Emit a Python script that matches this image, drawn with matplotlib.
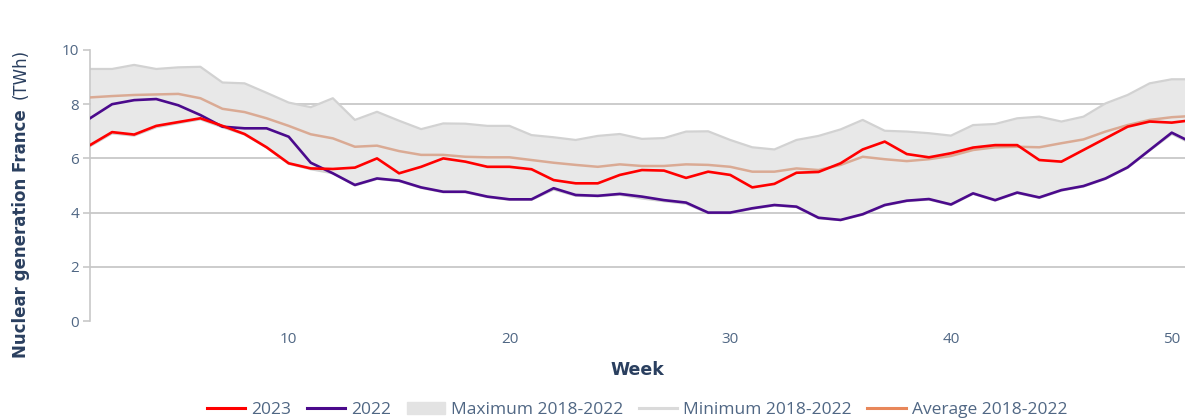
import numpy as np
import matplotlib
matplotlib.use("Agg")
import matplotlib.pyplot as plt
from matplotlib.lines import Line2D
from matplotlib.patches import Patch

plt.rcParams['font.family'] = ['Open Sans', 'DejaVu Sans']

weeks = list(range(1, 52))

gen_2023 = [6.49, 6.97, 6.88, 7.2, 7.34, 7.48, 7.2, 6.9, 6.41, 5.82,
            5.63, 5.61, 5.66, 6.0, 5.45, 5.69, 6.0, 5.88, 5.69, 5.69,
            5.6, 5.2, 5.08, 5.08, 5.39, 5.57, 5.55, 5.28, 5.51, 5.39,
            4.93, 5.06, 5.47, 5.5, 5.82, 6.33, 6.62, 6.16, 6.04, 6.19,
            6.4, 6.49, 6.49, 5.94, 5.88, 6.31, 6.74, 7.17, 7.36, 7.32, 7.42]

gen_2022 = [7.48, 8.0, 8.15, 8.19, 7.96, 7.6, 7.17, 7.11, 7.11, 6.8,
            5.84, 5.45, 5.02, 5.26, 5.18, 4.93, 4.77, 4.77, 4.59, 4.49,
            4.49, 4.9, 4.65, 4.62, 4.69, 4.59, 4.46, 4.37, 4.0, 4.0,
            4.16, 4.28, 4.22, 3.81, 3.73, 3.94, 4.28, 4.44, 4.5, 4.3,
            4.71, 4.46, 4.74, 4.56, 4.83, 4.98, 5.26, 5.67, 6.31, 6.95, 6.55]

max_1822 = [9.3, 9.3, 9.45, 9.3, 9.36, 9.38, 8.8, 8.77, 8.42, 8.06,
            7.89, 8.22, 7.42, 7.72, 7.39, 7.08, 7.29, 7.28, 7.2, 7.2,
            6.86, 6.78, 6.68, 6.83, 6.9, 6.72, 6.75, 6.99, 7.0, 6.68,
            6.41, 6.33, 6.68, 6.83, 7.07, 7.42, 7.02, 6.99, 6.93, 6.84,
            7.23, 7.27, 7.48, 7.54, 7.36, 7.54, 8.03, 8.34, 8.77, 8.92, 8.92]

min_1822 = [6.45, 6.92, 6.84, 7.15, 7.3, 7.44, 7.15, 6.88, 6.4, 5.8,
            5.6, 5.45, 5.0, 5.24, 5.16, 4.91, 4.75, 4.75, 4.57, 4.47,
            4.47, 4.85, 4.62, 4.6, 4.66, 4.52, 4.42, 4.33, 3.98, 3.98,
            4.14, 4.26, 4.2, 3.79, 3.72, 3.92, 4.26, 4.42, 4.48, 4.28,
            4.69, 4.44, 4.72, 4.54, 4.81, 4.96, 5.24, 5.65, 6.29, 6.9, 6.5]

avg_1822 = [8.25, 8.3, 8.34, 8.36, 8.38, 8.22, 7.83, 7.71, 7.48, 7.2,
            6.89, 6.74, 6.43, 6.47, 6.27, 6.13, 6.13, 6.06, 6.04, 6.04,
            5.94, 5.84, 5.76, 5.69, 5.78, 5.72, 5.72, 5.78, 5.76, 5.69,
            5.51, 5.51, 5.63, 5.57, 5.76, 6.06, 5.97, 5.9, 5.97, 6.09,
            6.31, 6.41, 6.43, 6.41, 6.56, 6.7, 6.99, 7.23, 7.42, 7.52, 7.57]

W, H = 1185, 419
fig = plt.figure(figsize=(W / 100, H / 100), dpi=100)
ax = fig.add_axes([90 / W, 1 - 321 / H, 1 - 90 / W, 271 / H])

band_col = '#e8e8e8'
edge_col = '#d2d2d2'
avg_col = '#e8875a'
navy = '#2a3f5f'

ax.fill_between(weeks, min_1822, max_1822, color=band_col, lw=0, zorder=1)
ax.plot(weeks, max_1822, color=edge_col, lw=1.6, zorder=2)
ax.plot(weeks, min_1822, color=edge_col, lw=1.6, zorder=2)
ax.plot(weeks, avg_1822, color='#d9a48b', alpha=0.9, lw=1.8, zorder=3)
ax.plot(weeks, gen_2022, color='#4b0a8c', lw=1.9, zorder=4)
ax.plot(weeks, gen_2023, color='#ff0000', lw=1.9, zorder=5)

ax.set_xlim(1, 50.6)
ax.set_ylim(0, 10)
ax.set_yticks([0, 2, 4, 6, 8, 10])
ax.set_xticks([10, 20, 30, 40, 50])
for y in [2, 4, 6, 8]:
    ax.axhline(y, color='#cccccc', lw=1.4, zorder=0)

for s in ['top', 'right', 'bottom']:
    ax.spines[s].set_visible(False)
ax.spines['left'].set_color('#c8c8c8')
ax.spines['left'].set_linewidth(1.2)
ax.tick_params(axis='y', colors='#c8c8c8', labelcolor='#506784', labelsize=11,
               length=5, width=1.2, pad=3)
ax.tick_params(axis='x', labelcolor='#506784', labelsize=11, length=0, pad=8)

ax.set_xlabel('Week', fontsize=12.5, fontweight='bold', color=navy, labelpad=10,
              family='DejaVu Sans')

ylab = fig.text(21 / W, 1 - 358 / H, 'Nuclear generation France', rotation=90,
                ha='center', va='bottom', fontsize=12, fontweight='bold', color=navy,
                family='DejaVu Sans')
fig.canvas.draw()
bb = ylab.get_window_extent()
top_px = bb.y1 / fig.dpi / (H / 100)
fig.text(21 / W, top_px + 10 / H, '(TWh)', rotation=90,
         ha='center', va='bottom', fontsize=12, color=navy, family='DejaVu Sans')

handles = [
    Line2D([], [], color='#ff0000', lw=2.2),
    Line2D([], [], color='#4b0a8c', lw=2.2),
    Patch(facecolor='#e3e3e3', edgecolor='#e3e3e3'),
    Line2D([], [], color='#dadada', lw=2.2),
    Line2D([], [], color=avg_col, lw=2.2),
]
labels = ['2023', '2022', 'Maximum 2018-2022', 'Minimum 2018-2022', 'Average 2018-2022']
fig.legend(handles, labels, loc='center', bbox_to_anchor=(637 / W, 1 - 410 / H),
           ncol=5, frameon=False, fontsize=12.5, labelcolor='#506784',
           handlelength=2.2, handletextpad=0.35, columnspacing=0.9)

fig.savefig('out.png', dpi=100)
